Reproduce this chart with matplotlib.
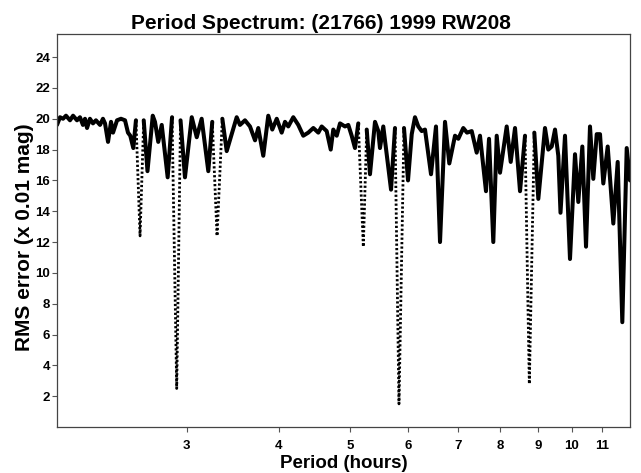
import numpy as np
import matplotlib.pyplot as plt
from matplotlib.ticker import FixedLocator, NullLocator, FixedFormatter

plt.rcParams['font.family'] = ['Liberation Sans', 'DejaVu Sans']

# Period spectrum values (period in hours, RMS in 0.01 mag)
period = [2.000, 2.019, 2.038, 2.057, 2.083, 2.103, 2.129, 2.149, 2.169, 2.183,
          2.197, 2.217, 2.238, 2.259, 2.288, 2.309, 2.324, 2.346, 2.368, 2.383,
          2.413, 2.443, 2.474, 2.497, 2.515, 2.539, 2.560, 2.593, 2.623, 2.654,
          2.698, 2.717, 2.745, 2.775, 2.827, 2.866, 2.908, 2.943, 2.984, 3.048,
          3.096, 3.144, 3.210, 3.250, 3.299, 3.354, 3.400, 3.454, 3.508, 3.544,
          3.600, 3.657, 3.715, 3.753, 3.812, 3.872, 3.921, 3.976, 4.038, 4.080,
          4.122, 4.187, 4.253, 4.320, 4.388, 4.458, 4.528, 4.576, 4.648, 4.707,
          4.745, 4.796, 4.846, 4.922, 4.973, 5.026, 5.078, 5.131, 5.212, 5.268,
          5.322, 5.406, 5.462, 5.491, 5.548, 5.684, 5.755, 5.827, 5.919, 5.994,
          6.064, 6.126, 6.190, 6.256, 6.321, 6.441, 6.542, 6.625, 6.729, 6.820,
          6.943, 7.015, 7.125, 7.208, 7.315, 7.430, 7.507, 7.649, 7.722, 7.826,
          7.910, 7.992, 8.161, 8.264, 8.376, 8.508, 8.642, 8.759, 8.897, 9.009,
          9.199, 9.295, 9.394, 9.492, 9.590, 9.656, 9.793, 9.947, 10.104, 10.209,
          10.338, 10.458, 10.589, 10.699, 10.814, 10.926, 11.039, 11.192, 11.390, 11.547,
          11.715, 11.877, 12.000]
rms = [19.6, 20.1, 20.0, 20.2, 19.9, 20.2, 19.9, 20.1, 19.6, 20.0,
       19.4, 20.0, 19.7, 19.9, 19.6, 20.0, 19.7, 18.5, 19.8, 19.1,
       19.9, 20.0, 19.9, 19.1, 18.9, 18.1, 19.9, 12.4, 19.9, 16.6,
       20.2, 19.8, 18.5, 19.6, 16.2, 20.1, 2.5, 19.9, 16.2, 20.1,
       18.8, 20.0, 16.6, 19.8, 12.4, 20.0, 17.9, 19.0, 20.1, 19.6,
       19.9, 19.5, 18.6, 19.4, 17.6, 20.2, 19.3, 20.0, 19.1, 19.8,
       19.5, 20.1, 19.6, 18.9, 19.1, 19.4, 19.1, 19.5, 19.2, 18.0,
       19.3, 18.9, 19.7, 19.5, 19.6, 18.9, 18.1, 19.7, 11.7, 19.3,
       16.4, 19.8, 19.2, 18.1, 19.5, 15.4, 19.4, 1.5, 19.4, 16.0,
       19.0, 20.1, 19.5, 19.2, 19.3, 16.4, 19.5, 12.0, 19.8, 17.1,
       18.9, 18.7, 19.4, 19.1, 19.2, 17.8, 18.9, 15.3, 18.7, 12.0,
       18.9, 16.5, 19.5, 17.2, 19.4, 15.3, 18.9, 2.8, 19.1, 14.8,
       19.4, 18.0, 18.2, 19.3, 17.6, 13.9, 18.9, 10.9, 17.7, 14.6,
       18.2, 11.7, 19.5, 16.1, 19.0, 19.0, 15.8, 18.2, 13.2, 17.2,
       6.8, 18.1, 16.0]

# minima that the original draws as sparse (dotted) samples
dotted_minima = [2.593, 2.908, 3.299, 5.212, 5.827, 8.759]

xtick_vals = [3, 4, 5, 6, 7, 8, 9, 10, 11]
ytick_vals = [2, 4, 6, 8, 10, 12, 14, 16, 18, 20, 22, 24]

p = np.array(period)
r = np.array(rms)
dot_idx = [int(np.argmin(np.abs(p - d))) for d in dotted_minima]

r_solid = r.copy()
r_solid[dot_idx] = np.nan

fig = plt.figure(figsize=(6.41, 4.73), dpi=100)
ax = fig.add_axes([57/641, 1 - 427/473, 573/641, 393/473])

ax.plot(p, r_solid, color='black', lw=2.9, solid_joinstyle='round',
        solid_capstyle='round')
for i in dot_idx:
    ax.plot(p[i-1:i+2], r[i-1:i+2], color='black', lw=2.0,
            linestyle=(0, (0.8, 0.8)))

ax.set_xscale('log')
ax.set_xlim(2, 12)
ax.set_ylim(0, 25.5)
ax.xaxis.set_major_locator(FixedLocator(xtick_vals))
ax.xaxis.set_major_formatter(FixedFormatter([str(v) for v in xtick_vals]))
ax.xaxis.set_minor_locator(NullLocator())
ax.set_yticks(ytick_vals)
ax.tick_params(axis='both', direction='out', length=3.5, width=0.8,
               color='#555555', labelsize=9.5)
ax.tick_params(axis='x', pad=5.5)
ax.tick_params(axis='y', pad=1.5)
for lab in ax.get_xticklabels() + ax.get_yticklabels():
    lab.set_fontweight('bold')
for s in ax.spines.values():
    s.set_linewidth(0.9)
    s.set_color('#444444')

fig.text(0.5, 1 - 29/473, 'Period Spectrum: (21766) 1999 RW208',
         ha='center', va='baseline', fontsize=15, fontweight='bold')
fig.text(343.5/641, 1 - 463/473, 'Period (hours)', ha='center', va='center',
         fontsize=13.5, fontweight='bold')
fig.text(25/641, 1 - 237/473, 'RMS error (x 0.01 mag)', ha='center',
         va='center', rotation=90, fontsize=15, fontweight='bold')

fig.savefig('out.png', dpi=100)
